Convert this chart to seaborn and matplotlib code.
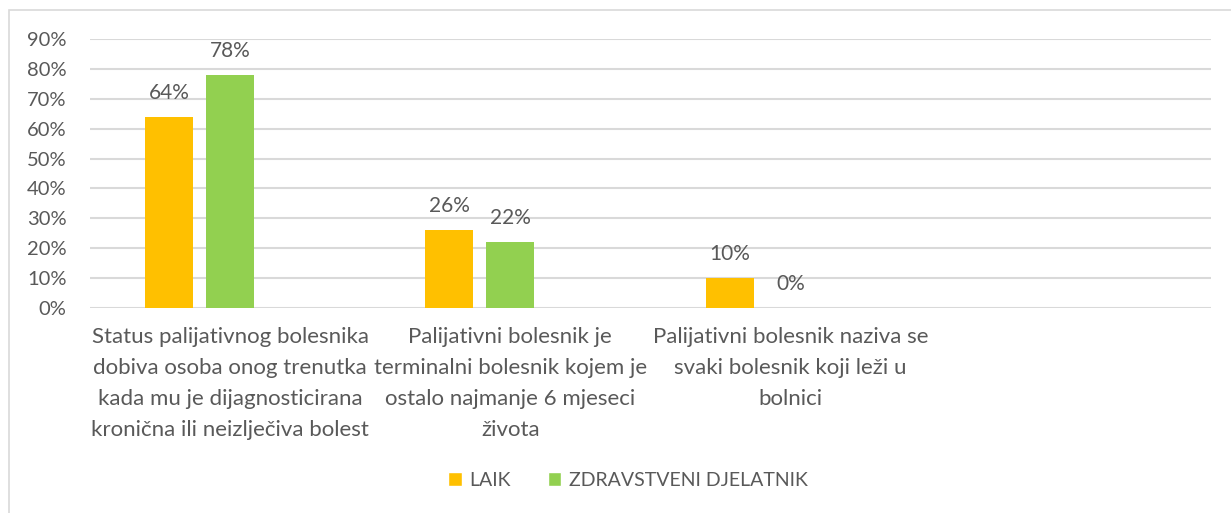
import numpy as np
import pandas as pd
import seaborn as sns
import matplotlib
matplotlib.use("Agg")
import matplotlib.pyplot as plt
from matplotlib.patches import Patch, Rectangle

# ---- data ----
categories = [
    "Status palijativnog bolesnika dobiva osoba onog trenutka kada mu je dijagnosticirana kronična ili neizlječiva bolest",
    "Palijativni bolesnik je terminalni bolesnik kojem je ostalo najmanje 6 mjeseci života",
    "Palijativni bolesnik naziva se svaki bolesnik koji leži u bolnici",
    "",
]
tick_labels = [
    "Status palijativnog bolesnika\ndobiva osoba onog trenutka\nkada mu je dijagnosticirana\nkronična ili neizlječiva bolest",
    "Palijativni bolesnik je\nterminalni bolesnik kojem je\nostalo najmanje 6 mjeseci\nživota",
    "Palijativni bolesnik naziva se\nsvaki bolesnik koji leži u\nbolnici",
    "",
]
series_names = ["LAIK", "ZDRAVSTVENI DJELATNIK", "_empty"]
laik = [64, 26, 10]
zdravstveni = [78, 22, 0]
y_ticks = [0, 10, 20, 30, 40, 50, 60, 70, 80, 90]
colors = ["#FFC000", "#92D050", "#FFFFFF"]

rows = []
for c, v in zip(categories[:3], laik):
    rows.append({"cat": c, "series": series_names[0], "val": v})
for c, v in zip(categories[:3], zdravstveni):
    rows.append({"cat": c, "series": series_names[1], "val": v})
df = pd.DataFrame(rows)

sns.set_theme(style="white")
plt.rcParams["font.family"] = ["Lato", "DejaVu Sans"]
TXT = "#595959"

fig = plt.figure(figsize=(12.31, 5.13), dpi=100)
ax = fig.add_axes([90 / 1231, 1 - 308 / 513, 1121 / 1231, (308 - 39) / 513])

sns.barplot(data=df, x="cat", y="val", hue="series", order=categories,
            hue_order=series_names, palette=dict(zip(series_names, colors)),
            width=0.653, gap=0.214, saturation=1, legend=False, ax=ax,
            linewidth=0, errorbar=None)

ax.set_ylim(0, 90)
ax.set_xlim(-0.5, 3.5)
ax.set_yticks(y_ticks)
ax.set_yticklabels([f"{t}%" for t in y_ticks], color=TXT, fontsize=14.5)
ax.set_xticks(range(len(categories)))
ax.set_xticklabels(tick_labels, color=TXT, fontsize=16, linespacing=1.68)
ax.tick_params(axis="both", length=0)
ax.tick_params(axis="y", pad=17)
ax.tick_params(axis="x", pad=14)
ax.set_xlabel("")
ax.set_ylabel("")
ax.yaxis.grid(True, color="#d9d9d9", linewidth=1.5)
ax.set_axisbelow(True)
for s in ax.spines.values():
    s.set_visible(False)

for cont in ax.containers[:2]:
    labels = [f"{int(round(b.get_height()))}%" for b in cont]
    ax.bar_label(cont, labels=labels, padding=10, color=TXT, fontsize=15)

handles = [Patch(facecolor=colors[0], label=series_names[0]),
           Patch(facecolor=colors[1], label=series_names[1])]
fig.legend(handles=handles, loc="center", bbox_to_anchor=(628 / 1231, 1 - 480 / 513),
           ncol=2, frameon=False, fontsize=14, labelcolor=TXT,
           handlelength=0.7, handleheight=0.7, handletextpad=0.4, columnspacing=1.9)

fig.patches.append(Rectangle((8.5 / 1231, -0.1), 1.2, 1 - 9.5 / 513 + 0.1,
                             transform=fig.transFigure, fill=False,
                             edgecolor="#d9d9d9", linewidth=1.2))

fig.savefig("out.png", dpi=100)
